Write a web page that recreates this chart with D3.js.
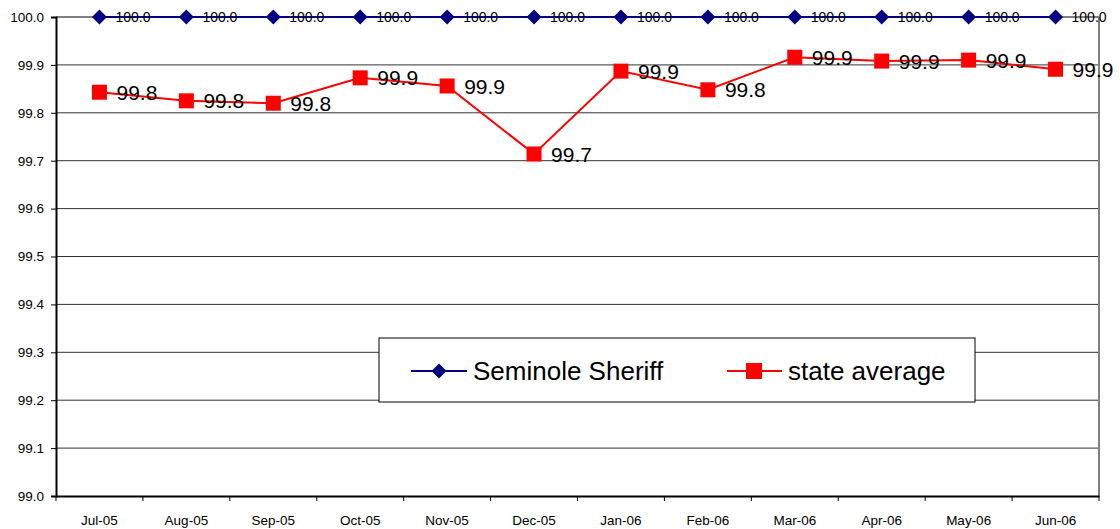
<!DOCTYPE html>
<html>
<head>
<meta charset="utf-8">
<script src="https://cdn.jsdelivr.net/npm/d3@7"></script>
<style>
  body { margin: 0; background: #fff; }
  svg { display: block; font-family: Arial, "Liberation Sans", sans-serif; }
</style>
</head>
<body>
<script>
// Data
var months = ['Jul-05', 'Aug-05', 'Sep-05', 'Oct-05', 'Nov-05', 'Dec-05',
              'Jan-06', 'Feb-06', 'Mar-06', 'Apr-06', 'May-06', 'Jun-06'];
var sheriffValues = [100, 100, 100, 100, 100, 100, 100, 100, 100, 100, 100, 100];
var stateValues = [99.843, 99.825, 99.820, 99.873, 99.856, 99.714,
                   99.887, 99.848, 99.916, 99.908, 99.910, 99.891];
var yTicks = [99.0, 99.1, 99.2, 99.3, 99.4, 99.5, 99.6, 99.7, 99.8, 99.9, 100.0];
var seriesNames = ['Seminole Sheriff', 'state average'];

var width = 1120, height = 529;
var plot = {left: 56, right: 1099, top: 17, bottom: 496};

var svg = d3.select('body').append('svg').attr('width', width).attr('height', height);

var x = d3.scaleBand().domain(months).range([plot.left, plot.right]);
var y = d3.scaleLinear().domain([99.0, 100.0]).range([plot.bottom, plot.top]);
var fmt = d3.format('.1f');

// diamond marker
var diamondPath = 'M0,-7.5L7.5,0L0,7.5L-7.5,0Z';

// Gridlines
svg.append('g').selectAll('line').data(yTicks.slice(1, -1)).enter().append('line')
    .attr('x1', plot.left).attr('x2', plot.right)
    .attr('y1', function(d) { return y(d); }).attr('y2', function(d) { return y(d); })
    .attr('stroke', '#333').attr('stroke-width', 1);

// Plot area border (grey top/right)
svg.append('line').attr('x1', plot.left).attr('x2', plot.right)
    .attr('y1', plot.top).attr('y2', plot.top).attr('stroke', '#808080').attr('stroke-width', 2);
svg.append('line').attr('x1', plot.right).attr('x2', plot.right)
    .attr('y1', plot.top).attr('y2', plot.bottom).attr('stroke', '#808080').attr('stroke-width', 2);

// Y axis
var yAxis = svg.append('g').attr('transform', 'translate(' + plot.left + ',0)')
    .call(d3.axisLeft(y).tickValues(yTicks).tickFormat(fmt).tickSize(5).tickPadding(7));
yAxis.select('.domain').attr('stroke', '#000').attr('stroke-width', 2);
yAxis.selectAll('.tick line').attr('stroke', '#000');
yAxis.selectAll('text').attr('font-size', 13.5).attr('fill', '#000')
    .attr('font-family', 'Arial, "Liberation Sans", sans-serif');

// X axis
var xAxis = svg.append('g').attr('transform', 'translate(0,' + plot.bottom + ')')
    .call(d3.axisBottom(x).tickSize(0).tickPadding(19));
xAxis.select('.domain').attr('stroke', '#000').attr('stroke-width', 2);
xAxis.selectAll('text').attr('font-size', 13.5).attr('fill', '#000')
    .attr('font-family', 'Arial, "Liberation Sans", sans-serif');
// tick marks on category boundaries
svg.append('g').selectAll('line').data(months).enter().append('line')
    .attr('x1', function(d) { return x(d); }).attr('x2', function(d) { return x(d); })
    .attr('y1', plot.bottom).attr('y2', plot.bottom + 5)
    .attr('stroke', '#000');
svg.append('line').attr('x1', plot.right).attr('x2', plot.right)
    .attr('y1', plot.bottom).attr('y2', plot.bottom + 5).attr('stroke', '#000');

function cx(d, i) { return x(months[i]) + x.bandwidth() / 2; }

var line = d3.line()
    .x(function(d, i) { return cx(d, i); })
    .y(function(d) { return y(d); });

// state average series
svg.append('path').datum(stateValues).attr('d', line)
    .attr('fill', 'none').attr('stroke', '#ff0000').attr('stroke-width', 2);
svg.append('g').selectAll('rect').data(stateValues).enter().append('rect')
    .attr('x', function(d, i) { return cx(d, i) - 7.5; })
    .attr('y', function(d) { return y(d) - 7.5; })
    .attr('width', 15).attr('height', 15).attr('fill', '#ff0000');
svg.append('g').selectAll('text').data(stateValues).enter().append('text')
    .attr('x', function(d, i) { return cx(d, i) + 17; })
    .attr('y', function(d) { return y(d); })
    .attr('dy', '0.36em')
    .attr('font-size', 21).attr('fill', '#000')
    .text(function(d) { return fmt(d); });

// Seminole Sheriff series
svg.append('path').datum(sheriffValues).attr('d', line)
    .attr('fill', 'none').attr('stroke', '#000080').attr('stroke-width', 2);
svg.append('g').selectAll('path').data(sheriffValues).enter().append('path')
    .attr('d', diamondPath)
    .attr('transform', function(d, i) { return 'translate(' + cx(d, i) + ',' + y(d) + ')'; })
    .attr('fill', '#000080');
svg.append('g').selectAll('text').data(sheriffValues).enter().append('text')
    .attr('x', function(d, i) { return cx(d, i) + 16; })
    .attr('y', function(d) { return y(d); })
    .attr('dy', '0.36em')
    .attr('font-size', 14).attr('fill', '#000')
    .text(function(d) { return fmt(d); });

// Legend
var legend = svg.append('g').attr('transform', 'translate(379,338)');
legend.append('rect').attr('width', 596).attr('height', 64)
    .attr('fill', '#fff').attr('stroke', '#000').attr('stroke-width', 1);
var lg1 = legend.append('g').attr('transform', 'translate(32,33)');
lg1.append('line').attr('x1', 0).attr('x2', 56).attr('stroke', '#000080').attr('stroke-width', 2);
lg1.append('path').attr('d', diamondPath).attr('transform', 'translate(28,0)').attr('fill', '#000080');
lg1.append('text').attr('x', 62).attr('dy', '0.36em').attr('font-size', 26).text(seriesNames[0]);
var lg2 = legend.append('g').attr('transform', 'translate(348,33)');
lg2.append('line').attr('x1', 0).attr('x2', 55).attr('stroke', '#ff0000').attr('stroke-width', 2);
lg2.append('rect').attr('x', 19).attr('y', -8).attr('width', 16).attr('height', 16).attr('fill', '#ff0000');
lg2.append('text').attr('x', 61).attr('dy', '0.36em').attr('font-size', 26).text(seriesNames[1]);
</script>
</body>
</html>
